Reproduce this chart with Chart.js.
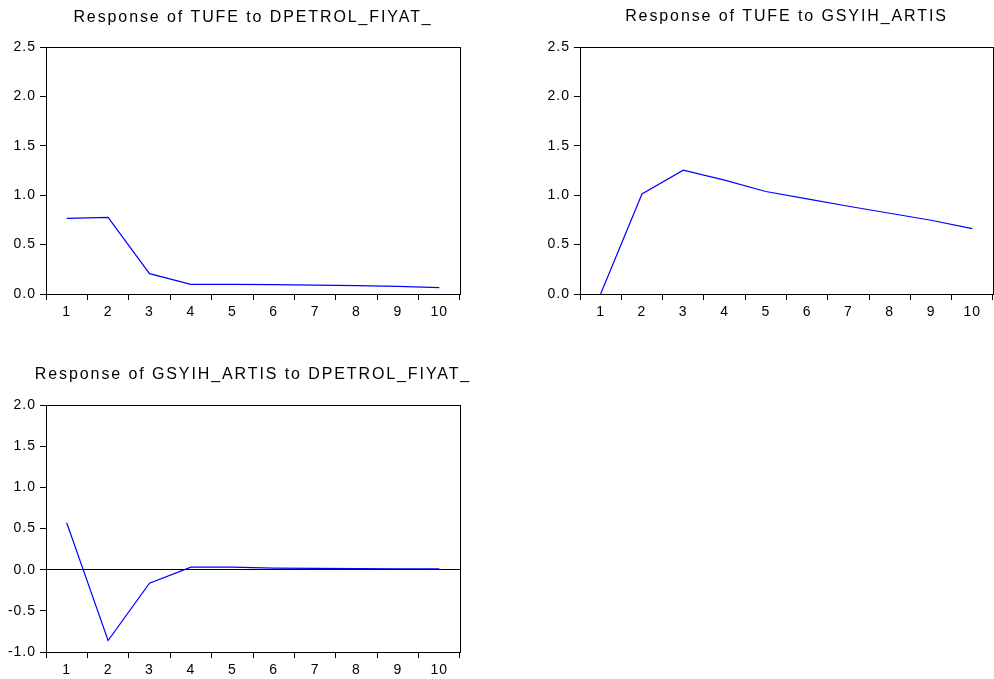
<!DOCTYPE html>
<html>
<head>
<meta charset="utf-8">
<script src="https://cdn.jsdelivr.net/npm/chart.js@4"></script>
<style>
  html, body { margin: 0; padding: 0; background: #fff; overflow: hidden; width: 994px; height: 679px; }
  .box { position: absolute; }
</style>
</head>
<body>
<div class="box" id="b1" style="left:0px;top:0px;width:506px;height:330px;"><canvas id="c1"></canvas></div>
<div class="box" id="b2" style="left:534px;top:0px;width:505px;height:330px;"><canvas id="c2"></canvas></div>
<div class="box" id="b3" style="left:0px;top:360px;width:506px;height:319px;"><canvas id="c3"></canvas></div>
<script>
// ---- data ----
const periods = ['1','2','3','4','5','6','7','8','9','10'];
const tufeToPetrol = [0.767, 0.777, 0.206, 0.097, 0.097, 0.094, 0.090, 0.084, 0.077, 0.064];
const tufeToGsyih = [0.0, 1.014, 1.255, 1.153, 1.038, 0.963, 0.889, 0.818, 0.747, 0.663];
const gsyihToPetrol = [0.572, -0.860, -0.163, 0.032, 0.032, 0.020, 0.016, 0.014, 0.012, 0.010];
const titles = [
  'Response of TUFE to DPETROL_FIYAT_',
  'Response of TUFE to GSYIH_ARTIS',
  'Response of GSYIH_ARTIS to DPETROL_FIYAT_'
];
const yTicks1 = [0, 2.5];
const yTicks3 = [-1, 2];

const FONT = "'Liberation Sans', Arial, sans-serif";

// letter spacing helper: wide-spaced text like the original
const spacingPlugin = {
  id: 'spacing',
  beforeInit(chart) {
    const ctx = chart.ctx;
    const orig = ctx.fillText.bind(ctx);
    ctx.fillText = function(t, x, y, w) {
      if ('letterSpacing' in ctx) {
        ctx.letterSpacing = /16px/.test(ctx.font) ? '1.9px' : '1px';
      }
      if (w === undefined) orig(t, x, y); else orig(t, x, y, w);
    };
  }
};

const framePlugin = {
  id: 'frame',
  afterDraw(chart) {
    const a = chart.chartArea, ctx = chart.ctx;
    ctx.save();
    ctx.strokeStyle = '#000';
    ctx.lineWidth = 1;
    ctx.strokeRect(Math.round(a.left) + 0.5, Math.round(a.top) + 0.5,
                   Math.round(a.right - a.left), Math.round(a.bottom - a.top));
    ctx.restore();
  }
};

function makeChart(id, title, data, yRange, xHeight, titlePad, zeroLine) {
  return new Chart(document.getElementById(id), {
    type: 'line',
    data: {
      labels: periods,
      datasets: [{
        data: data,
        borderColor: '#0000ff',
        borderWidth: 1.2,
        pointRadius: 0,
        fill: false,
        tension: 0
      }]
    },
    options: {
      responsive: true,
      maintainAspectRatio: false,
      animation: false,
      layout: { padding: 0 },
      plugins: {
        legend: { display: false },
        tooltip: { enabled: false },
        title: {
          display: true,
          text: title,
          color: '#000',
          font: { family: FONT, size: 16, weight: 'normal', lineHeight: 1.2 },
          padding: titlePad
        }
      },
      scales: {
        x: {
          type: 'category',
          offset: true,
          grid: { offset: true, drawOnChartArea: false, drawTicks: true, tickLength: 6, color: '#000', lineWidth: 1 },
          border: { display: true, color: '#000', width: 1 },
          ticks: { color: '#000', font: { family: FONT, size: 14 }, padding: 4, maxRotation: 0, autoSkip: false },
          afterFit(s) { s.height = xHeight; }
        },
        y: {
          min: yRange[0],
          max: yRange[1],
          grid: {
            drawOnChartArea: zeroLine,
            drawTicks: true,
            tickLength: 6,
            tickColor: '#000',
            lineWidth: 1,
            color: (c) => (zeroLine && c.tick && c.tick.value === 0) ? '#000' : (zeroLine ? 'rgba(0,0,0,0)' : '#000')
          },
          border: { display: true, color: '#000', width: 1 },
          ticks: {
            stepSize: 0.5,
            color: '#000',
            font: { family: FONT, size: 14 },
            padding: 4,
            callback: (v) => Number(v).toFixed(1)
          },
          afterFit(s) { s.width = 46; }
        },
        yRight: {
          position: 'right',
          display: true,
          grid: { display: false, drawTicks: false },
          border: { display: false },
          ticks: { display: false },
          afterFit(s) { s.width = 46; }
        }
      }
    },
    plugins: [spacingPlugin, framePlugin]
  });
}

makeChart('c1', titles[0], tufeToPetrol, yTicks1, 36, { top: 8, bottom: 20 }, false);
makeChart('c2', titles[1], tufeToGsyih, yTicks1, 36, { top: 7, bottom: 21 }, false);
makeChart('c3', titles[2], gsyihToPetrol, yTicks3, 27, { top: 5, bottom: 21 }, true);
</script>
</body>
</html>
